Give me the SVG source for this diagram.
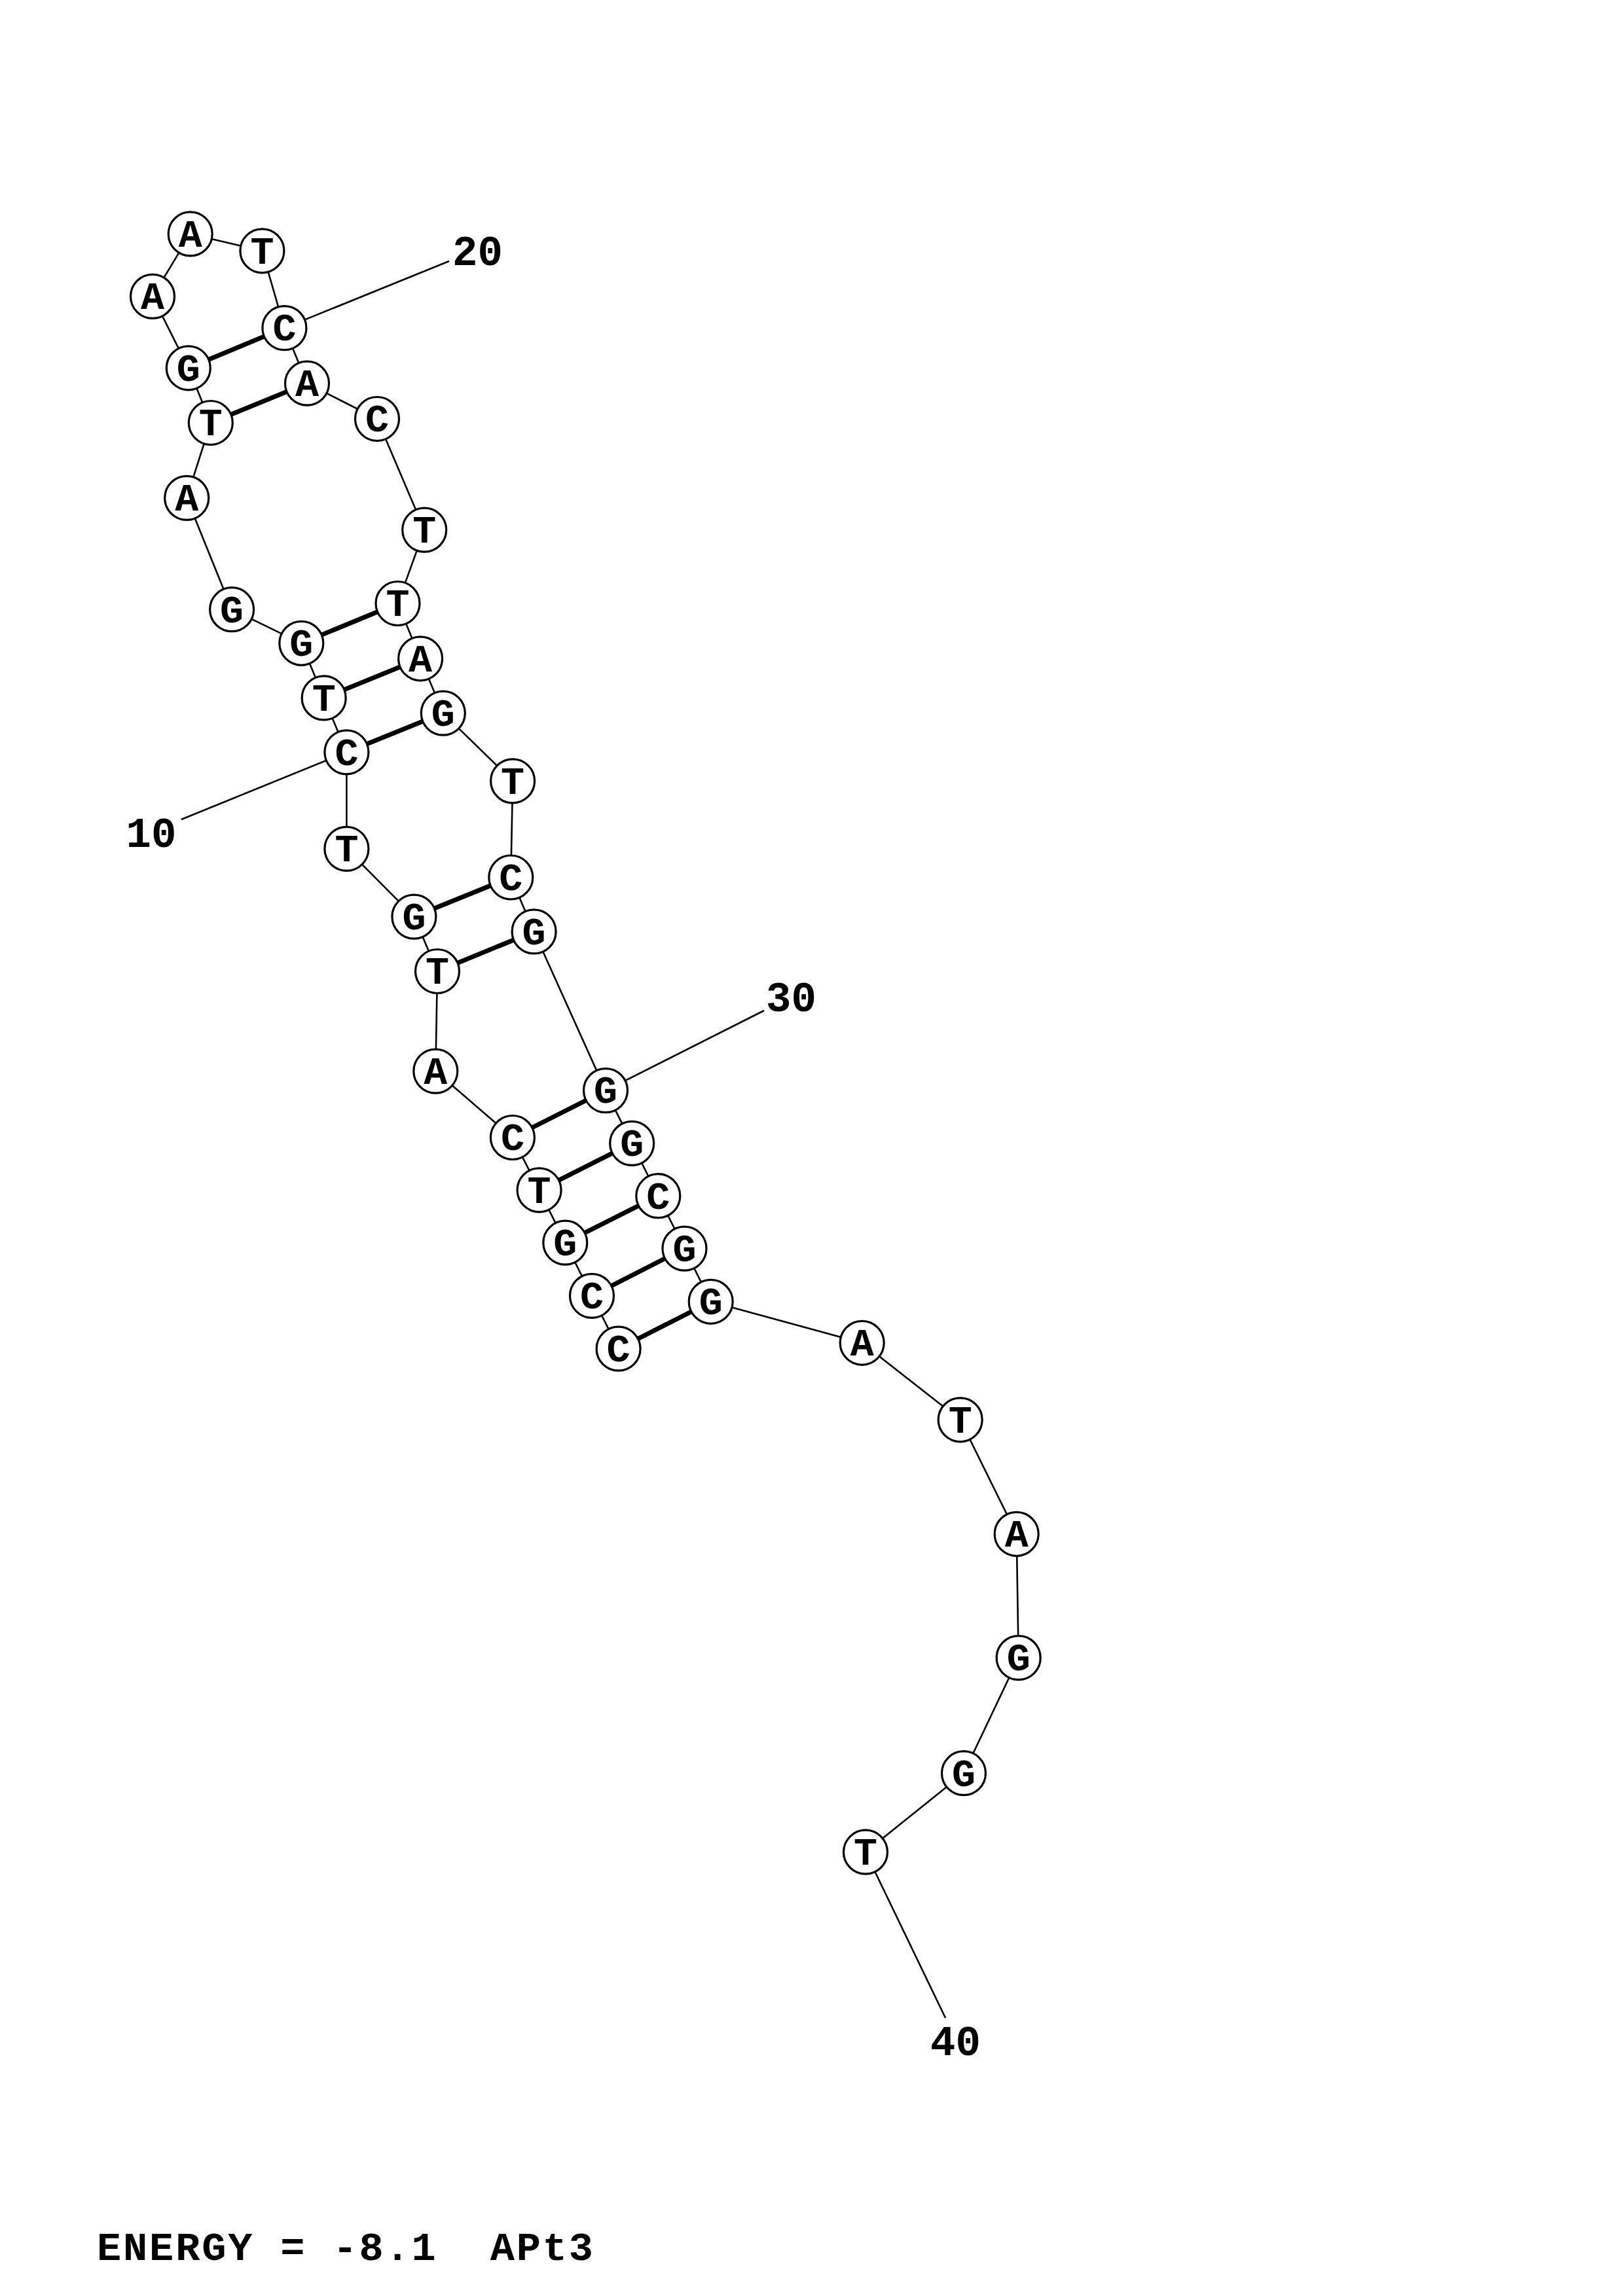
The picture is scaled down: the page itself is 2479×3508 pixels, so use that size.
<svg xmlns="http://www.w3.org/2000/svg" width="2479" height="3508" viewBox="0 0 2479 3508">
<style>
.bb{fill:none;stroke:#000;stroke-width:2.6;stroke-linejoin:round}
.pr{stroke:#000;stroke-width:7}
.lb{stroke:#000;stroke-width:2.6}
.n circle{fill:#fff;stroke:#000;stroke-width:3.2}
.n text{font-family:"Liberation Mono","DejaVu Sans Mono",monospace;font-weight:bold;font-size:60px;text-anchor:middle;fill:#000}
.num{font-family:"Liberation Mono","DejaVu Sans Mono",monospace;font-weight:bold;font-size:64px;text-anchor:middle;fill:#000}
.en{font-family:"Liberation Mono","DejaVu Sans Mono",monospace;font-weight:bold;font-size:62px;fill:#000}
</style>
<rect width="2479" height="3508" fill="#fff"/>
<g id="connectors">
<polyline class="bb" points="944.6,2060.7 904,1979.9 863.3,1898.7 823.6,1818.3 782.9,1738 665.3,1636.6 668,1484 632.4,1400.6 529.4,1296.9 529.4,1149.3 494.7,1066.4 460.3,982.8 354.1,931.2 285.2,760.9 321.8,646 287.8,562.3 233,452.9 290.7,357.4 400.4,383.3 434.4,501.1 469,585.7 576,640 648.2,809.6 607.5,922 642.1,1006.3 676.8,1089.6 783.1,1193.3 780.3,1340.5 815.6,1423.4 925,1666.1 965.2,1746.9 1005.3,1827.2 1045.5,1907.6 1085.7,1988.8 1316.7,2051.8 1466.7,2169.3 1552.7,2343.8 1555.7,2532.9 1472,2709.2 1322,2829.7"/>
<line class="pr" x1="944.6" y1="2060.7" x2="1085.7" y2="1988.8"/>
<line class="pr" x1="904" y1="1979.9" x2="1045.5" y2="1907.6"/>
<line class="pr" x1="863.3" y1="1898.7" x2="1005.3" y2="1827.2"/>
<line class="pr" x1="823.6" y1="1818.3" x2="965.2" y2="1746.9"/>
<line class="pr" x1="782.9" y1="1738" x2="925" y2="1666.1"/>
<line class="pr" x1="668" y1="1484" x2="815.6" y2="1423.4"/>
<line class="pr" x1="632.4" y1="1400.6" x2="780.3" y2="1340.5"/>
<line class="pr" x1="529.4" y1="1149.3" x2="676.8" y2="1089.6"/>
<line class="pr" x1="494.7" y1="1066.4" x2="642.1" y2="1006.3"/>
<line class="pr" x1="460.3" y1="982.8" x2="607.5" y2="922"/>
<line class="pr" x1="321.8" y1="646" x2="469" y2="585.7"/>
<line class="pr" x1="287.8" y1="562.3" x2="434.4" y2="501.1"/>
<line class="lb" x1="277" y1="1252" x2="529.4" y2="1149.3"/>
<line class="lb" x1="686" y1="399" x2="434.4" y2="501.1"/>
<line class="lb" x1="1167" y1="1544" x2="925" y2="1666.1"/>
<line class="lb" x1="1444" y1="3083" x2="1322" y2="2829.7"/>
</g>
<g id="n1" class="n"><circle cx="944.6" cy="2060.7" r="33.5"/><text x="944.6" y="2080">C</text></g>
<g id="n2" class="n"><circle cx="904" cy="1979.9" r="33.5"/><text x="904" y="1999">C</text></g>
<g id="n3" class="n"><circle cx="863.3" cy="1898.7" r="33.5"/><text x="863.3" y="1918">G</text></g>
<g id="n4" class="n"><circle cx="823.6" cy="1818.3" r="33.5"/><text x="823.6" y="1838">T</text></g>
<g id="n5" class="n"><circle cx="782.9" cy="1738" r="33.5"/><text x="782.9" y="1757">C</text></g>
<g id="n6" class="n"><circle cx="665.3" cy="1636.6" r="33.5"/><text x="665.3" y="1656">A</text></g>
<g id="n7" class="n"><circle cx="668" cy="1484" r="33.5"/><text x="668" y="1503">T</text></g>
<g id="n8" class="n"><circle cx="632.4" cy="1400.6" r="33.5"/><text x="632.4" y="1420">G</text></g>
<g id="n9" class="n"><circle cx="529.4" cy="1296.9" r="33.5"/><text x="529.4" y="1316">T</text></g>
<g id="n10" class="n"><circle cx="529.4" cy="1149.3" r="33.5"/><text x="529.4" y="1169">C</text></g>
<g id="n11" class="n"><circle cx="494.7" cy="1066.4" r="33.5"/><text x="494.7" y="1086">T</text></g>
<g id="n12" class="n"><circle cx="460.3" cy="982.8" r="33.5"/><text x="460.3" y="1002">G</text></g>
<g id="n13" class="n"><circle cx="354.1" cy="931.2" r="33.5"/><text x="354.1" y="951">G</text></g>
<g id="n14" class="n"><circle cx="285.2" cy="760.9" r="33.5"/><text x="285.2" y="780">A</text></g>
<g id="n15" class="n"><circle cx="321.8" cy="646" r="33.5"/><text x="321.8" y="665">T</text></g>
<g id="n16" class="n"><circle cx="287.8" cy="562.3" r="33.5"/><text x="287.8" y="582">G</text></g>
<g id="n17" class="n"><circle cx="233" cy="452.9" r="33.5"/><text x="233" y="472">A</text></g>
<g id="n18" class="n"><circle cx="290.7" cy="357.4" r="33.5"/><text x="290.7" y="377">A</text></g>
<g id="n19" class="n"><circle cx="400.4" cy="383.3" r="33.5"/><text x="400.4" y="403">T</text></g>
<g id="n20" class="n"><circle cx="434.4" cy="501.1" r="33.5"/><text x="434.4" y="520">C</text></g>
<g id="n21" class="n"><circle cx="469" cy="585.7" r="33.5"/><text x="469" y="605">A</text></g>
<g id="n22" class="n"><circle cx="576" cy="640" r="33.5"/><text x="576" y="659">C</text></g>
<g id="n23" class="n"><circle cx="648.2" cy="809.6" r="33.5"/><text x="648.2" y="829">T</text></g>
<g id="n24" class="n"><circle cx="607.5" cy="922" r="33.5"/><text x="607.5" y="941">T</text></g>
<g id="n25" class="n"><circle cx="642.1" cy="1006.3" r="33.5"/><text x="642.1" y="1026">A</text></g>
<g id="n26" class="n"><circle cx="676.8" cy="1089.6" r="33.5"/><text x="676.8" y="1109">G</text></g>
<g id="n27" class="n"><circle cx="783.1" cy="1193.3" r="33.5"/><text x="783.1" y="1213">T</text></g>
<g id="n28" class="n"><circle cx="780.3" cy="1340.5" r="33.5"/><text x="780.3" y="1360">C</text></g>
<g id="n29" class="n"><circle cx="815.6" cy="1423.4" r="33.5"/><text x="815.6" y="1443">G</text></g>
<g id="n30" class="n"><circle cx="925" cy="1666.1" r="33.5"/><text x="925" y="1685">G</text></g>
<g id="n31" class="n"><circle cx="965.2" cy="1746.9" r="33.5"/><text x="965.2" y="1766">G</text></g>
<g id="n32" class="n"><circle cx="1005.3" cy="1827.2" r="33.5"/><text x="1005.3" y="1847">C</text></g>
<g id="n33" class="n"><circle cx="1045.5" cy="1907.6" r="33.5"/><text x="1045.5" y="1927">G</text></g>
<g id="n34" class="n"><circle cx="1085.7" cy="1988.8" r="33.5"/><text x="1085.7" y="2008">G</text></g>
<g id="n35" class="n"><circle cx="1316.7" cy="2051.8" r="33.5"/><text x="1316.7" y="2071">A</text></g>
<g id="n36" class="n"><circle cx="1466.7" cy="2169.3" r="33.5"/><text x="1466.7" y="2189">T</text></g>
<g id="n37" class="n"><circle cx="1552.7" cy="2343.8" r="33.5"/><text x="1552.7" y="2363">A</text></g>
<g id="n38" class="n"><circle cx="1555.7" cy="2532.9" r="33.5"/><text x="1555.7" y="2552">G</text></g>
<g id="n39" class="n"><circle cx="1472" cy="2709.2" r="33.5"/><text x="1472" y="2729">G</text></g>
<g id="n40" class="n"><circle cx="1322" cy="2829.7" r="33.5"/><text x="1322" y="2849">T</text></g>
<g id="labels">
<text class="num" x="231" y="1294">10</text>
<text class="num" x="729.5" y="405">20</text>
<text class="num" x="1208.5" y="1545">30</text>
<text class="num" x="1459.5" y="3140">40</text>
</g>
<text id="energy" class="en" x="148" y="3453" textLength="758" lengthAdjust="spacing" xml:space="preserve">ENERGY = -8.1  APt3</text>
</svg>
